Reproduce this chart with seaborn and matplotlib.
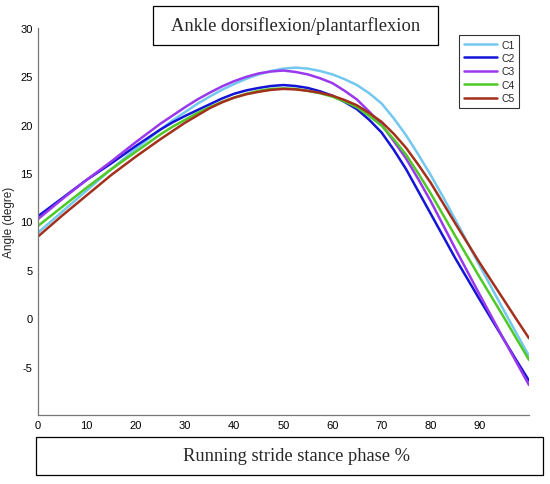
import matplotlib
matplotlib.use("Agg")
import matplotlib.pyplot as plt
import seaborn as sns
import pandas as pd

# stance phase (%) sampled every 2.5 %
phase = [i * 2.5 for i in range(41)]

c1 = [8.8, 9.9, 11.0, 12.1, 13.2, 14.3, 15.4, 16.45, 17.5, 18.5, 19.5,
      20.45, 21.3, 22.15, 22.9, 23.6, 24.2, 24.75, 25.2, 25.55, 25.8,
      25.9, 25.8, 25.55, 25.2, 24.7, 24.1, 23.25, 22.2, 20.65, 18.9,
      16.9, 14.8, 12.55, 10.2, 7.8, 5.4, 3.05, 0.7, -1.6, -3.9]
c2 = [10.5, 11.45, 12.4, 13.35, 14.3, 15.15, 16.0, 16.9, 17.8, 18.65, 19.5,
      20.25, 20.9, 21.5, 22.1, 22.7, 23.2, 23.55, 23.8, 24.0, 24.1,
      24.0, 23.8, 23.45, 23.0, 22.35, 21.6, 20.5, 19.2, 17.4, 15.4,
      13.1, 10.8, 8.5, 6.2, 4.05, 1.9, -0.2, -2.3, -4.4, -6.45]
c3 = [10.2, 11.25, 12.3, 13.3, 14.3, 15.25, 16.2, 17.2, 18.2, 19.15, 20.1,
      20.95, 21.8, 22.6, 23.3, 23.95, 24.5, 24.95, 25.3, 25.5, 25.6,
      25.45, 25.2, 24.8, 24.3, 23.5, 22.6, 21.35, 20.0, 18.3, 16.5,
      14.35, 12.1, 9.65, 7.2, 4.8, 2.4, 0.05, -2.3, -4.6, -6.9]
c4 = [9.5, 10.5, 11.5, 12.5, 13.5, 14.45, 15.4, 16.3, 17.2, 18.1, 19.0,
      19.8, 20.5, 21.2, 21.8, 22.35, 22.8, 23.2, 23.5, 23.7, 23.75,
      23.7, 23.5, 23.25, 22.9, 22.4, 21.8, 20.9, 19.9, 18.5, 16.9,
      14.95, 12.9, 10.7, 8.5, 6.35, 4.2, 2.1, 0.0, -2.15, -4.3]
c5 = [8.4, 9.5, 10.6, 11.65, 12.7, 13.75, 14.8, 15.75, 16.7, 17.6, 18.5,
      19.35, 20.2, 20.95, 21.7, 22.3, 22.8, 23.15, 23.4, 23.6, 23.7,
      23.65, 23.5, 23.3, 23.0, 22.55, 22.0, 21.2, 20.3, 19.05, 17.6,
      15.85, 14.0, 11.9, 9.8, 7.75, 5.7, 3.75, 1.8, -0.15, -2.07]

curves = ["C1", "C2", "C3", "C4", "C5"]
colors = ["#72c8ee", "#1414d8", "#9a38ee", "#4fc925", "#a3301c"]

xticks = [0, 10, 20, 30, 40, 50, 60, 70, 80, 90]
yticks = [-5, 0, 5, 10, 15, 20, 25, 30]

df = pd.DataFrame({
    "phase": phase * 5,
    "angle": c1 + c2 + c3 + c4 + c5,
    "curve": [c for c in curves for _ in phase],
})

sns.set_style("white")
plt.rcParams["font.family"] = ["Liberation Sans", "DejaVu Sans"]
plt.rcParams["axes.unicode_minus"] = False

fig = plt.figure(figsize=(5.5, 4.85), dpi=100)
ax = fig.add_axes([0.0682, 0.1423, 0.8936, 0.798])

sns.lineplot(data=df, x="phase", y="angle", hue="curve", palette=colors,
             linewidth=1.8, ax=ax)

ax.set_xlim(0, 100)
ax.set_ylim(-10, 30)
ax.set_xticks(xticks)
ax.set_yticks(yticks)
ax.tick_params(direction="in", length=3, width=0.8, colors="#666666",
               labelsize=8, labelcolor="black")
for s in ["top", "right"]:
    ax.spines[s].set_visible(False)
for s in ["left", "bottom"]:
    ax.spines[s].set_color("#777777")
    ax.spines[s].set_linewidth(0.9)
ax.set_xlabel("")
ax.set_ylabel("Angle (degre)", fontsize=8.5, labelpad=4)

leg = ax.legend(loc="upper left", bbox_to_anchor=(0.858, 0.982), fontsize=7.5,
                frameon=True, fancybox=False, handlelength=3.2,
                labelspacing=0.33, borderpad=0.45, handletextpad=0.4,
                borderaxespad=0)
leg.get_frame().set_edgecolor("black")
leg.get_frame().set_linewidth(0.8)

serif = ["Liberation Serif", "DejaVu Serif"]

# title box
tbox = plt.Rectangle((153 / 550, 1 - 45.7 / 485), 285 / 550, 38.4 / 485,
                     transform=fig.transFigure, fill=False, ec="black", lw=0.9)
fig.add_artist(tbox)
fig.text(0.537, 0.9454, "Ankle dorsiflexion/plantarflexion", ha="center",
         va="center", fontsize=13.3, family=serif)

# x label box
xbox = plt.Rectangle((36 / 550, 1 - 475.5 / 485), 506.7 / 550, 37.8 / 485,
                     transform=fig.transFigure, fill=False, ec="black", lw=0.9)
fig.add_artist(xbox)
fig.text(0.539, 0.0585, "Running stride stance phase %", ha="center",
         va="center", fontsize=13.3, family=serif)

fig.savefig("out.png", dpi=100)
